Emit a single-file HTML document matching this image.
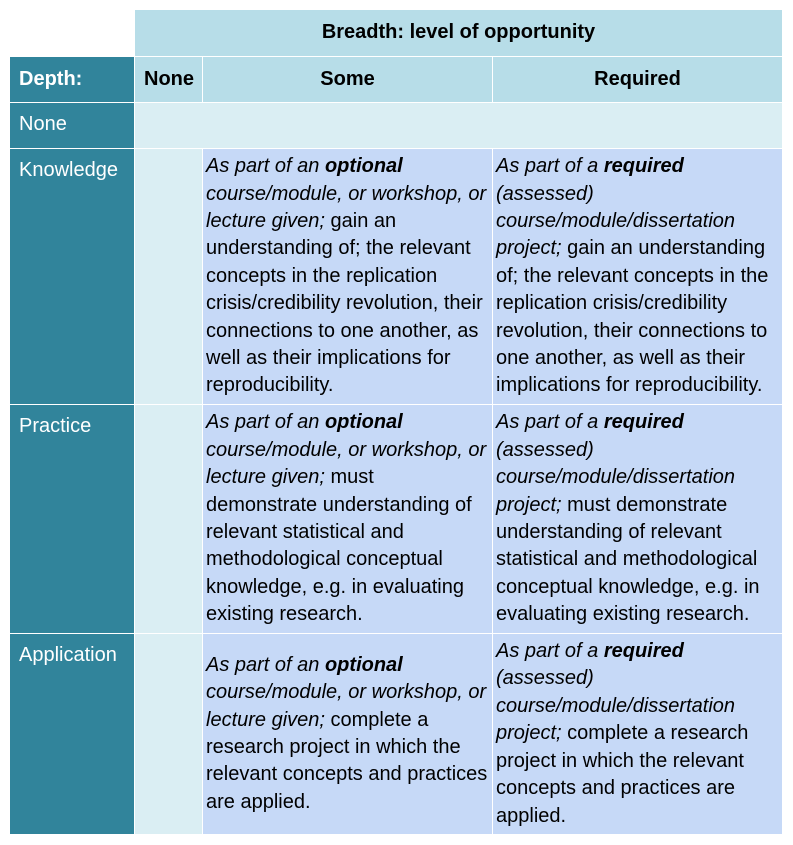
<!DOCTYPE html>
<html><head><meta charset="utf-8"><style>
body{margin:0;width:793px;height:845px;background:#fff;position:relative;font-family:"Liberation Sans",Arial,sans-serif;overflow:hidden}
.c{position:absolute;box-sizing:border-box;font-size:20px;line-height:27.4px;color:#000}
.h{background:#b7dde8;font-weight:bold;display:flex;align-items:center;justify-content:center}
.d{background:#31849b;color:#fff;padding:8px 0 0 9px}
.l{background:#daeef3}
.v{background:#c6d9f7;display:flex;align-items:center;padding:0 3px;white-space:nowrap}
i b{font-style:italic}
</style></head><body>
<div class="c h" style="left:135px;top:10px;width:647px;height:46px">Breadth: level of opportunity</div>
<div class="c d" style="left:10px;top:57px;width:124px;height:45px;font-weight:bold;padding-top:9px">Depth:</div>
<div class="c h" style="left:135px;top:57px;width:67px;height:45px;justify-content:flex-start;padding-left:9px">None</div>
<div class="c h" style="left:203px;top:57px;width:289px;height:45px">Some</div>
<div class="c h" style="left:493px;top:57px;width:289px;height:45px">Required</div>

<div class="c d" style="left:10px;top:103px;width:124px;height:45px">None</div>
<div class="c l" style="left:135px;top:103px;width:647px;height:45px"></div>

<div class="c d" style="left:10px;top:149px;width:124px;height:255px">Knowledge</div>
<div class="c l" style="left:135px;top:149px;width:67px;height:255px"></div>
<div class="c v" style="left:203px;top:149px;width:289px;height:255px"><div><i>As part of an <b>optional</b><br>course/module, or workshop, or<br>lecture given;</i> gain an<br>understanding of; the relevant<br>concepts in the replication<br>crisis/credibility revolution, their<br>connections to one another, as<br>well as their implications for<br>reproducibility.</div></div>
<div class="c v" style="left:493px;top:149px;width:289px;height:255px"><div><i>As part of a <b>required</b><br>(assessed)<br>course/module/dissertation<br>project;</i> gain an understanding<br>of; the relevant concepts in the<br>replication crisis/credibility<br>revolution, their connections to<br>one another, as well as their<br>implications for reproducibility.</div></div>

<div class="c d" style="left:10px;top:405px;width:124px;height:228px">Practice</div>
<div class="c l" style="left:135px;top:405px;width:67px;height:228px"></div>
<div class="c v" style="left:203px;top:405px;width:289px;height:228px"><div><i>As part of an <b>optional</b><br>course/module, or workshop, or<br>lecture given;</i> must<br>demonstrate understanding of<br>relevant statistical and<br>methodological conceptual<br>knowledge, e.g. in evaluating<br>existing research.</div></div>
<div class="c v" style="left:493px;top:405px;width:289px;height:228px"><div><i>As part of a <b>required</b><br>(assessed)<br>course/module/dissertation<br>project;</i> must demonstrate<br>understanding of relevant<br>statistical and methodological<br>conceptual knowledge, e.g. in<br>evaluating existing research.</div></div>

<div class="c d" style="left:10px;top:634px;width:124px;height:200px">Application</div>
<div class="c l" style="left:135px;top:634px;width:67px;height:200px"></div>
<div class="c v" style="left:203px;top:634px;width:289px;height:200px"><div><i>As part of an <b>optional</b><br>course/module, or workshop, or<br>lecture given;</i> complete a<br>research project in which the<br>relevant concepts and practices<br>are applied.</div></div>
<div class="c v" style="left:493px;top:634px;width:289px;height:200px"><div><i>As part of a <b>required</b><br>(assessed)<br>course/module/dissertation<br>project;</i> complete a research<br>project in which the relevant<br>concepts and practices are<br>applied.</div></div>
</body></html>
